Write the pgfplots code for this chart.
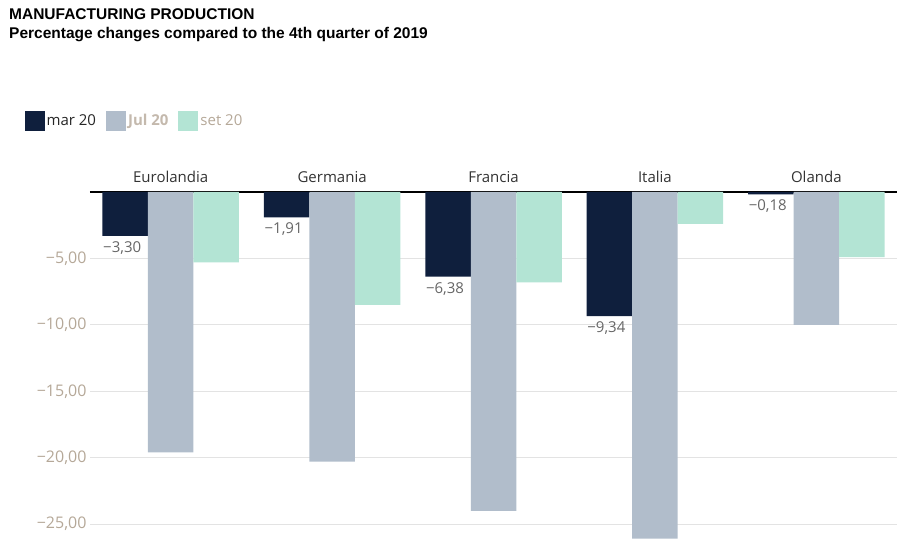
\documentclass[border=0pt]{standalone}
\usepackage{pgfplots}
\pgfplotsset{compat=1.18}
\usepackage{fontspec}
\setmainfont{Open Sans}
\newfontfamily\titlefont{Liberation Sans}
\definecolor{cmar}{HTML}{0F1F3D}
\definecolor{cjul}{HTML}{B1BDCB}
\definecolor{cset}{HTML}{B3E4D4}
\definecolor{ctick}{HTML}{B5A898}
\definecolor{cgrid}{HTML}{E3E3E3}
\begin{document}
\begin{tikzpicture}
\path[use as bounding box] (-90pt,-14pt) rectangle (820pt,540pt);
\node[anchor=north west,inner sep=0,align=left,font=\titlefont\bfseries\fontsize{15.5}{19}\selectfont] at (-81pt,532pt) {MANUFACTURING PRODUCTION\\Percentage changes compared to the 4th quarter of 2019};
\begin{axis}[at={(0,0)},anchor=south west,scale only axis,width=807pt,height=348pt,
 ymin=-26.2,ymax=0,xmin=-0.5,xmax=4.5,
 ybar=0pt,bar width=45.5pt,
 axis y line*=left, axis x line*=top,
 y axis line style={draw=none},
 x axis line style={black,line width=1.2pt,-},
 ytick={-25,-20,-15,-10,-5},
 ymajorgrids,grid style={cgrid,line width=0.8pt},
 yticklabels={{−25,00},{−20,00},{−15,00},{−10,00},{−5,00}},
 yticklabel style={font=\fontsize{16}{19}\selectfont,text=ctick},
 xtick={0,1,2,3,4},xticklabels={Eurolandia,Germania,Francia,Italia,Olanda},
 xticklabel pos=upper, xtick style={draw=none},ytick style={draw=none},
 xticklabel style={font=\fontsize{15}{18}\selectfont,text=black!80,yshift=2pt},
 legend style={at={(-0.085,1.204)},anchor=west,draw=none,fill=none,legend columns=3,
   font=\fontsize{15}{18}\selectfont,/tikz/every even column/.append style={column sep=8pt}},
 legend image code/.code={\fill[#1] (0pt,-10pt) rectangle (20pt,10pt);},
]
\addplot[fill=cmar,draw=none,point meta=explicit symbolic,
 nodes near coords,nodes near coords style={font=\fontsize{15}{18}\selectfont,text=black!60,anchor=north,xshift=-3pt,yshift=-2pt}]
 coordinates {(0,-3.30)[−3,30] (1,-1.91)[−1,91] (2,-6.38)[−6,38] (3,-9.34)[−9,34] (4,-0.18)[−0,18]};
\addlegendentry{\textcolor{black!85}{mar 20}}
\addplot[fill=cjul,draw=none] coordinates {(0,-19.6) (1,-20.3) (2,-24.0) (3,-26.1) (4,-10.0)};
\addlegendentry{\textcolor{ctick!80}{\bfseries Jul 20}}
\addplot[fill=cset,draw=none] coordinates {(0,-5.3) (1,-8.5) (2,-6.8) (3,-2.4) (4,-4.9)};
\addlegendentry{\textcolor{ctick}{set 20}}
\end{axis}
\end{tikzpicture}
\end{document}
